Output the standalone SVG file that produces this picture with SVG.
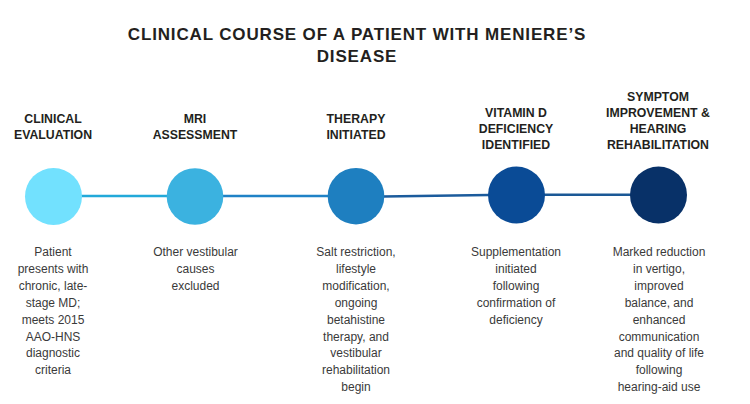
<svg xmlns="http://www.w3.org/2000/svg" width="750" height="404" viewBox="0 0 750 404">
<style>
.title{font-family:"Liberation Sans",Arial,sans-serif;font-weight:bold;font-size:17px;letter-spacing:0.85px;fill:#231f20;text-anchor:middle}
.head{font-family:"Liberation Sans",Arial,sans-serif;font-weight:bold;font-size:12.3px;fill:#231f20;text-anchor:middle}
.body{font-family:"Liberation Sans",Arial,sans-serif;font-size:12px;fill:#3a3a3a;text-anchor:middle}
.conn{fill:none;stroke-width:2.4}
</style>
<rect width="750" height="404" fill="#ffffff"/>
<g id="title">
<text class="title" x="357" y="40">CLINICAL COURSE OF A PATIENT WITH MENIERE’S</text>
<text class="title" x="357" y="62">DISEASE</text>
</g>
<g id="connectors">
<line class="conn" x1="80" y1="196" x2="168" y2="196" stroke="#22a9d9"/>
<line class="conn" x1="222" y1="196" x2="329" y2="196" stroke="#1f82c6"/>
<line class="conn" x1="383" y1="196.5" x2="489" y2="195" stroke="#1b5b9c"/>
<line class="conn" x1="544" y1="194.8" x2="631" y2="194.8" stroke="#1b5896"/>
</g>
<g id="node1">
<circle cx="53.5" cy="196.5" r="28.5" fill="#72e1fe"/>
<text class="head" x="53" y="123">CLINICAL</text>
<text class="head" x="53" y="139">EVALUATION</text>
<text class="body" x="53" y="256"><tspan x="53">Patient</tspan><tspan x="53" dy="16.9">presents with</tspan><tspan x="53" dy="16.9">chronic, late-</tspan><tspan x="53" dy="16.9">stage MD;</tspan><tspan x="53" dy="16.9">meets 2015</tspan><tspan x="53" dy="16.9">AAO-HNS</tspan><tspan x="53" dy="16.9">diagnostic</tspan><tspan x="53" dy="16.9">criteria</tspan></text>
</g>
<g id="node2">
<circle cx="195" cy="196.5" r="28.3" fill="#3bb2e0"/>
<text class="head" x="195" y="123">MRI</text>
<text class="head" x="195" y="139">ASSESSMENT</text>
<text class="body" x="195.5" y="256"><tspan x="195.5">Other vestibular</tspan><tspan x="195.5" dy="16.9">causes</tspan><tspan x="195.5" dy="16.9">excluded</tspan></text>
</g>
<g id="node3">
<circle cx="356" cy="196.2" r="28.3" fill="#1e7fc0"/>
<text class="head" x="356" y="123">THERAPY</text>
<text class="head" x="356" y="139">INITIATED</text>
<text class="body" x="356" y="256"><tspan x="356">Salt restriction,</tspan><tspan x="356" dy="16.9">lifestyle</tspan><tspan x="356" dy="16.9">modification,</tspan><tspan x="356" dy="16.9">ongoing</tspan><tspan x="356" dy="16.9">betahistine</tspan><tspan x="356" dy="16.9">therapy, and</tspan><tspan x="356" dy="16.9">vestibular</tspan><tspan x="356" dy="16.9">rehabilitation</tspan><tspan x="356" dy="16.9">begin</tspan></text>
</g>
<g id="node4">
<circle cx="516.5" cy="195" r="28.5" fill="#0a4b96"/>
<text class="head" x="516" y="117">VITAMIN D</text>
<text class="head" x="516" y="133">DEFICIENCY</text>
<text class="head" x="516" y="149">IDENTIFIED</text>
<text class="body" x="516" y="256"><tspan x="516">Supplementation</tspan><tspan x="516" dy="16.9">initiated</tspan><tspan x="516" dy="16.9">following</tspan><tspan x="516" dy="16.9">confirmation of</tspan><tspan x="516" dy="16.9">deficiency</tspan></text>
</g>
<g id="node5">
<circle cx="658.5" cy="195" r="28.5" fill="#083168"/>
<text class="head" x="658" y="101">SYMPTOM</text>
<text class="head" x="658" y="117">IMPROVEMENT &amp;</text>
<text class="head" x="658" y="133">HEARING</text>
<text class="head" x="658" y="149">REHABILITATION</text>
<text class="body" x="659" y="256"><tspan x="659">Marked reduction</tspan><tspan x="659" dy="16.9">in vertigo,</tspan><tspan x="659" dy="16.9">improved</tspan><tspan x="659" dy="16.9">balance, and</tspan><tspan x="659" dy="16.9">enhanced</tspan><tspan x="659" dy="16.9">communication</tspan><tspan x="659" dy="16.9">and quality of life</tspan><tspan x="659" dy="16.9">following</tspan><tspan x="659" dy="16.9">hearing-aid use</tspan></text>
</g>
</svg>
